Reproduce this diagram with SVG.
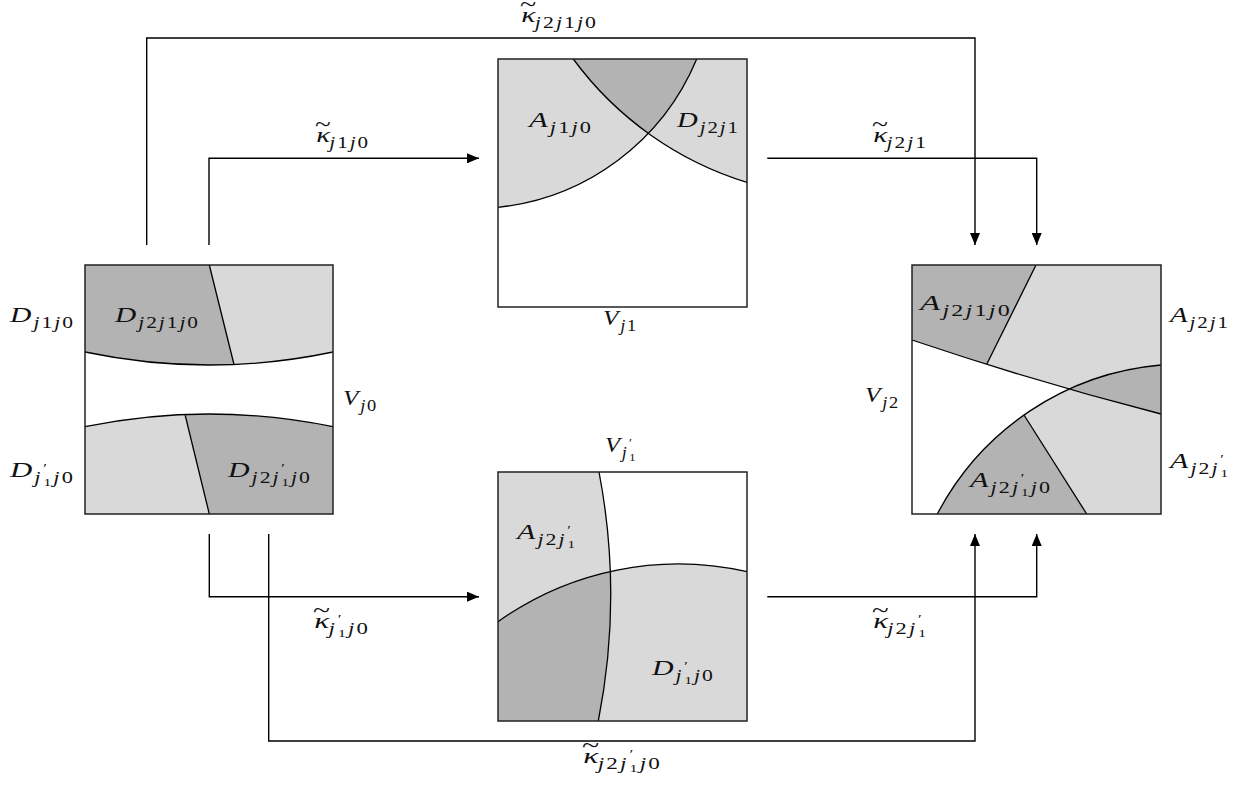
<svg xmlns="http://www.w3.org/2000/svg" width="1247" height="789" viewBox="0 0 1247 789">
<style>
.bg{fill:#ffffff}
.lt{fill:#d9d9d9;stroke:none}
.dk{fill:#b3b3b3;stroke:none}
.ln{fill:none;stroke:#000;stroke-width:1.3}
.bx{fill:none;stroke:#222;stroke-width:1.5}
.cn{fill:none;stroke:#000;stroke-width:1.4}
.m{font-family:"Liberation Serif","Times New Roman",serif;font-style:italic;font-size:22px;letter-spacing:1.5px;fill:#111}
.s{font-size:16px}
.n{font-style:normal}
.p{font-size:12px;font-style:normal}
.ss{font-size:11px;font-style:normal}
.tl{font-size:22px;font-style:normal;letter-spacing:0}
</style>
<defs>
<marker id="ah" viewBox="0 0 12 10" refX="12" refY="5" markerWidth="12" markerHeight="10" markerUnits="userSpaceOnUse" orient="auto"><path d="M0,0 L12,5 L0,10 Z" fill="#000"/></marker>
</defs>
<rect x="0" y="0" width="1247" height="789" fill="#fff"/>

<g id="connectors">
<path class="cn" d="M146.7,245 V38 H975 V245" marker-end="url(#ah)"/>
<path class="cn" d="M209,245 V158.3 H479" marker-end="url(#ah)"/>
<path class="cn" d="M767.3,158.3 H1036.7 V245" marker-end="url(#ah)"/>
<path class="cn" d="M209.3,534 V596.7 H479" marker-end="url(#ah)"/>
<path class="cn" d="M268.7,534 V741 H975 V534" marker-end="url(#ah)"/>
<path class="cn" d="M767.3,596.7 H1036.7 V534" marker-end="url(#ah)"/>
<text class="m" x="520" y="22" textLength="78" lengthAdjust="spacingAndGlyphs">κ<tspan class="tl" dx="-13" dy="-11">~</tspan><tspan class="s" dx="-1" dy="17">j<tspan class="n">2</tspan>j<tspan class="n">1</tspan>j<tspan class="n">0</tspan></tspan></text>
<text class="m" x="315" y="142" textLength="55" lengthAdjust="spacingAndGlyphs">κ<tspan class="tl" dx="-13" dy="-11">~</tspan><tspan class="s" dx="-1" dy="17">j<tspan class="n">1</tspan>j<tspan class="n">0</tspan></tspan></text>
<text class="m" x="872" y="142" textLength="56" lengthAdjust="spacingAndGlyphs">κ<tspan class="tl" dx="-13" dy="-11">~</tspan><tspan class="s" dx="-1" dy="17">j<tspan class="n">2</tspan>j<tspan class="n">1</tspan></tspan></text>
<text class="m" x="313" y="628" textLength="57" lengthAdjust="spacingAndGlyphs">κ<tspan class="tl" dx="-13" dy="-11">~</tspan><tspan class="s" dx="-1" dy="17">j</tspan><tspan class="p" dx="0.5" dy="-11">′</tspan><tspan class="ss" dx="-4" dy="14">1</tspan><tspan class="s" dy="-3">j<tspan class="n">0</tspan></tspan></text>
<text class="m" x="872" y="628" textLength="56" lengthAdjust="spacingAndGlyphs">κ<tspan class="tl" dx="-13" dy="-11">~</tspan><tspan class="s" dx="-1" dy="17">j<tspan class="n">2</tspan>j</tspan><tspan class="p" dx="0.5" dy="-11">′</tspan><tspan class="ss" dx="-4" dy="14">1</tspan></text>
<text class="m" x="582" y="763" textLength="80" lengthAdjust="spacingAndGlyphs">κ<tspan class="tl" dx="-13" dy="-11">~</tspan><tspan class="s" dx="-1" dy="17">j<tspan class="n">2</tspan>j</tspan><tspan class="p" dx="0.5" dy="-11">′</tspan><tspan class="ss" dx="-4" dy="14">1</tspan><tspan class="s" dy="-3">j<tspan class="n">0</tspan></tspan></text>
</g>

<g id="node-Vj0">
<rect class="bg" x="85" y="265" width="248" height="249"/>
<path class="lt" d="M85,265 H333 V352 Q209,378 85,352 Z"/>
<path class="dk" d="M85,265 H209.3 L234,364.5 Q159.4,367.6 85,352 Z"/>
<path class="lt" d="M85,514 V426.7 Q209,401.3 333,426.7 V514 Z"/>
<path class="dk" d="M185,414.5 Q259,411.5 333,426.7 V514 H209.3 Z"/>
<path class="ln" d="M85,352 Q209,378 333,352 M209.3,265 L234,364.5 M85,426.7 Q209,401.3 333,426.7 M185,414.5 L209.3,514"/>
<rect class="bx" x="85" y="265" width="248" height="249"/>
<text class="m" x="10" y="322" textLength="65" lengthAdjust="spacingAndGlyphs">D<tspan class="s" dy="6">j<tspan class="n">1</tspan>j<tspan class="n">0</tspan></tspan></text>
<text class="m" x="115" y="322" textLength="85" lengthAdjust="spacingAndGlyphs">D<tspan class="s" dy="6">j<tspan class="n">2</tspan>j<tspan class="n">1</tspan>j<tspan class="n">0</tspan></tspan></text>
<text class="m" x="343" y="405" textLength="35" lengthAdjust="spacingAndGlyphs">V<tspan class="s" dy="6">j<tspan class="n">0</tspan></tspan></text>
<text class="m" x="10" y="477" textLength="65" lengthAdjust="spacingAndGlyphs">D<tspan class="s" dy="6">j</tspan><tspan class="p" dx="0.5" dy="-11">′</tspan><tspan class="ss" dx="-4" dy="14">1</tspan><tspan class="s" dy="-3">j<tspan class="n">0</tspan></tspan></text>
<text class="m" x="228" y="477" textLength="84" lengthAdjust="spacingAndGlyphs">D<tspan class="s" dy="6">j<tspan class="n">2</tspan>j</tspan><tspan class="p" dx="0.5" dy="-11">′</tspan><tspan class="ss" dx="-4" dy="14">1</tspan><tspan class="s" dy="-3">j<tspan class="n">0</tspan></tspan></text>
</g>

<g id="node-Vj1">
<rect class="bg" x="498" y="59" width="249" height="248"/>
<path class="lt" d="M498,59 H696.7 A242.7,242.7 0 0 1 498,207.3 Z"/>
<path class="lt" d="M573.3,59 H747 V182.3 A338.7,338.7 0 0 1 573.3,59 Z"/>
<path class="dk" d="M573.3,59 H696.7 A242.7,242.7 0 0 1 648.3,133.3 A338.7,338.7 0 0 1 573.3,59 Z"/>
<path class="ln" d="M498,207.3 A242.7,242.7 0 0 0 696.7,59 M573.3,59 A338.7,338.7 0 0 0 747,182.3"/>
<rect class="bx" x="498" y="59" width="249" height="248"/>
<text class="m" x="529" y="127" textLength="64" lengthAdjust="spacingAndGlyphs">A<tspan class="s" dy="6">j<tspan class="n">1</tspan>j<tspan class="n">0</tspan></tspan></text>
<text class="m" x="677" y="127" textLength="63" lengthAdjust="spacingAndGlyphs">D<tspan class="s" dy="6">j<tspan class="n">2</tspan>j<tspan class="n">1</tspan></tspan></text>
<text class="m" x="603" y="325" textLength="35" lengthAdjust="spacingAndGlyphs">V<tspan class="s" dy="6">j<tspan class="n">1</tspan></tspan></text>
</g>

<g id="node-Vj1p">
<rect class="bg" x="498" y="472" width="249" height="249"/>
<path class="lt" d="M498,472 H599 A652,652 0 0 1 598.3,721 H498 Z"/>
<path class="lt" d="M498,621.7 A310,310 0 0 1 747,571.7 V721 H498 Z"/>
<path class="dk" d="M498,621.7 A310,310 0 0 1 610,571.7 A652,652 0 0 1 598.3,721 H498 Z"/>
<path class="ln" d="M599,472 A652,652 0 0 1 598.3,721 M498,621.7 A310,310 0 0 1 747,571.7"/>
<rect class="bx" x="498" y="472" width="249" height="249"/>
<text class="m" x="605" y="452" textLength="32" lengthAdjust="spacingAndGlyphs">V<tspan class="s" dy="6">j</tspan><tspan class="p" dx="0.5" dy="-11">′</tspan><tspan class="ss" dx="-4" dy="14">1</tspan></text>
<text class="m" x="517" y="539" textLength="60" lengthAdjust="spacingAndGlyphs">A<tspan class="s" dy="6">j<tspan class="n">2</tspan>j</tspan><tspan class="p" dx="0.5" dy="-11">′</tspan><tspan class="ss" dx="-4" dy="14">1</tspan></text>
<text class="m" x="652" y="675" textLength="63" lengthAdjust="spacingAndGlyphs">D<tspan class="s" dy="6">j</tspan><tspan class="p" dx="0.5" dy="-11">′</tspan><tspan class="ss" dx="-4" dy="14">1</tspan><tspan class="s" dy="-3">j<tspan class="n">0</tspan></tspan></text>
</g>

<g id="node-Vj2">
<rect class="bg" x="912" y="265" width="249" height="249"/>
<path class="lt" d="M912,265 H1161 V414 Q1036.5,382 912,340 Z"/>
<path class="dk" d="M912,265 H1036 L986.7,364.3 Q949.35,352.6 912,340 Z"/>
<path class="lt" d="M937.3,514 A279.7,279.7 0 0 1 1161,365 V514 Z"/>
<path class="dk" d="M1069.3,389.1 A279.7,279.7 0 0 1 1161,365 V414 Q1115.2,402.2 1069.3,389.1 Z"/>
<path class="dk" d="M937.3,514 A279.7,279.7 0 0 1 1024,415 L1086.7,514 Z"/>
<path class="ln" d="M912,340 Q1036.5,382 1161,414 M1036,265 L986.7,364.3 M937.3,514 A279.7,279.7 0 0 1 1161,365 M1024,415 L1086.7,514"/>
<rect class="bx" x="912" y="265" width="249" height="249"/>
<text class="m" x="920" y="310" textLength="92" lengthAdjust="spacingAndGlyphs">A<tspan class="s" dy="6">j<tspan class="n">2</tspan>j<tspan class="n">1</tspan>j<tspan class="n">0</tspan></tspan></text>
<text class="m" x="1170" y="322" textLength="60" lengthAdjust="spacingAndGlyphs">A<tspan class="s" dy="6">j<tspan class="n">2</tspan>j<tspan class="n">1</tspan></tspan></text>
<text class="m" x="865" y="402" textLength="35" lengthAdjust="spacingAndGlyphs">V<tspan class="s" dy="6">j<tspan class="n">2</tspan></tspan></text>
<text class="m" x="1170" y="468" textLength="60" lengthAdjust="spacingAndGlyphs">A<tspan class="s" dy="6">j<tspan class="n">2</tspan>j</tspan><tspan class="p" dx="0.5" dy="-11">′</tspan><tspan class="ss" dx="-4" dy="14">1</tspan></text>
<text class="m" x="970" y="487" textLength="82" lengthAdjust="spacingAndGlyphs">A<tspan class="s" dy="6">j<tspan class="n">2</tspan>j</tspan><tspan class="p" dx="0.5" dy="-11">′</tspan><tspan class="ss" dx="-4" dy="14">1</tspan><tspan class="s" dy="-3">j<tspan class="n">0</tspan></tspan></text>
</g>
</svg>
